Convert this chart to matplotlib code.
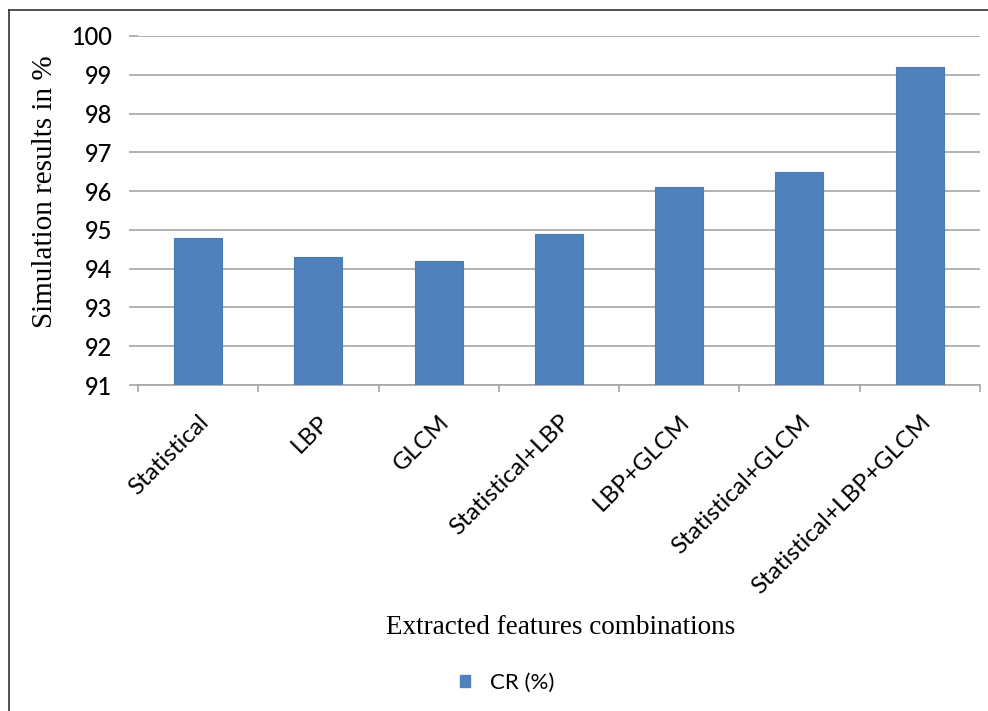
import matplotlib.pyplot as plt
from matplotlib.lines import Line2D
from matplotlib.patches import Patch

# Chart data
categories = ["Statistical", "LBP", "GLCM", "Statistical+LBP", "LBP+GLCM",
              "Statistical+GLCM", "Statistical+LBP+GLCM"]
cr_values = [94.8, 94.3, 94.2, 94.9, 96.1, 96.5, 99.2]
y_ticks = [91, 92, 93, 94, 95, 96, 97, 98, 99, 100]

BAR_COLOR = "#4F81BD"
GRID_COLOR = "#A6A6A6"

fig = plt.figure(figsize=(9.88, 7.11), dpi=100)
ax = fig.add_axes([0.1397, 0.4585, 0.852, 0.4909])

x = list(range(len(categories)))
ax.bar(x, [v - 91 for v in cr_values], bottom=91, width=0.4,
       color=BAR_COLOR, edgecolor="#4A7BB5", linewidth=0.8, zorder=3)

# Axis limits and grid
ax.set_xlim(-0.5, len(categories) - 0.5)
ax.set_ylim(91, 100)
ax.set_yticks(y_ticks)
ax.yaxis.grid(True, color=GRID_COLOR, linewidth=1.2, zorder=0)
for s in ["top", "right", "left"]:
    ax.spines[s].set_visible(False)
ax.spines["bottom"].set_color(GRID_COLOR)
ax.spines["bottom"].set_linewidth(1.2)

# Tick labels
ax.set_yticklabels([str(t) for t in y_ticks], fontsize=17, family="Lato",
                   fontweight="medium")
ax.tick_params(axis="y", length=6.5, width=1.2, color=GRID_COLOR, pad=12)
ax.set_xticks(x)
ax.set_xticklabels(categories, rotation=45, ha="right", rotation_mode="anchor",
                   fontsize=17.5, family="Lato")
ax.tick_params(axis="x", length=0, pad=19)
ax.set_xticks([i - 0.5 for i in range(len(categories) + 1)], minor=True)
ax.tick_params(axis="x", which="minor", length=5, width=1.2, color=GRID_COLOR)

# Axis titles
fig.text(0.0455, 0.730, "Simulation results in %", family="Liberation Serif",
         fontsize=21, rotation=90, ha="center", va="center")
fig.text(0.567, 0.117, "Extracted features combinations", family="Liberation Serif",
         fontsize=19.5, ha="center", va="center")

# Legend
handle = Patch(facecolor=BAR_COLOR, edgecolor=BAR_COLOR)
fig.legend([handle], ["CR (%)"], loc="center", bbox_to_anchor=(0.513, 0.04),
           frameon=False, prop={"family": "Lato", "size": 16},
           handlelength=0.45, handleheight=0.45, handletextpad=0.9)

# Outer frame (only left and top edges fall inside the picture)
fig.add_artist(Line2D([0.0095, 0.0095], [0, 0.986], color="#333333", linewidth=1.2,
                      transform=fig.transFigure))
fig.add_artist(Line2D([0.0095, 1.0], [0.986, 0.986], color="#333333", linewidth=1.2,
                      transform=fig.transFigure))

fig.savefig("out.png", dpi=100)
